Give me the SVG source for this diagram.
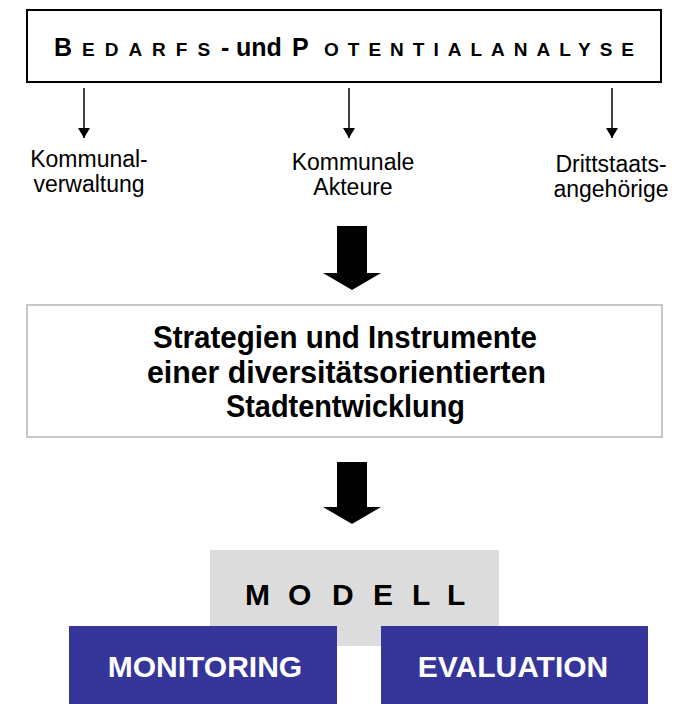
<svg xmlns="http://www.w3.org/2000/svg" width="689" height="704" viewBox="0 0 689 704">
<defs>
<style>
text{font-family:"Liberation Sans",Arial,sans-serif;fill:#000}
.lbl{font-size:23px;text-anchor:middle}
.b{font-weight:bold}
.mid{font-size:31px;font-weight:bold}
.wt{font-size:30px;font-weight:bold;fill:#fff;text-anchor:middle}
.thin{stroke:#000;stroke-width:1.5;fill:none}
</style>
<marker id="ah" viewBox="0 0 10 12" refX="10" refY="6" markerWidth="13" markerHeight="12" markerUnits="userSpaceOnUse" orient="auto">
<path d="M0,0 L10,6 L0,12 z" fill="#000"/>
</marker>
</defs>
<rect width="689" height="704" fill="#fff"/>
<g id="bedarf">
<rect x="27" y="10" width="634" height="72" fill="#fff" stroke="#000" stroke-width="2"/>
<text class="b" y="56"><tspan x="54" font-size="25">B</tspan><tspan x="82" font-size="19" letter-spacing="10">EDARFS</tspan><tspan x="221" font-size="25">-</tspan><tspan x="236" font-size="25">und</tspan><tspan x="292" font-size="25">P</tspan><tspan x="324" font-size="19" letter-spacing="9">OTENTIALANALYSE</tspan></text>
</g>
<g id="connectors">
<line class="thin" x1="84" y1="88" x2="84" y2="138" marker-end="url(#ah)"/>
<line class="thin" x1="349" y1="88" x2="349" y2="138" marker-end="url(#ah)"/>
<line class="thin" x1="612" y1="88" x2="612" y2="138" marker-end="url(#ah)"/>
<path d="M337,226 H367 V273 H381 L352,290 L323,273 H337 Z" fill="#000"/>
<path d="M337,462 H367 V507 H381 L352,524 L323,507 H337 Z" fill="#000"/>
</g>
<g id="kommunalverwaltung">
<text class="lbl"><tspan x="89" y="167">Kommunal-</tspan><tspan x="89" y="192">verwaltung</tspan></text>
</g>
<g id="akteure">
<text class="lbl"><tspan x="353" y="170">Kommunale</tspan><tspan x="353" y="195">Akteure</tspan></text>
</g>
<g id="drittstaats">
<text class="lbl"><tspan x="611" y="172">Drittstaats-</tspan><tspan x="611" y="197">angehörige</tspan></text>
</g>
<g id="strategien">
<rect x="27" y="305" width="635" height="132" fill="#fff" stroke="#c8c8c8" stroke-width="2"/>
<text class="mid" x="153" y="348" textLength="384" lengthAdjust="spacingAndGlyphs">Strategien und Instrumente</text>
<text class="mid" x="147" y="383" textLength="399" lengthAdjust="spacingAndGlyphs">einer diversitätsorientierten</text>
<text class="mid" x="226" y="417" textLength="239" lengthAdjust="spacingAndGlyphs">Stadtentwicklung</text>
</g>
<g id="modell">
<rect x="210" y="550" width="289" height="96" fill="#dcdcdc"/>
<text class="b" font-size="30" x="245 288 332 373 412 447" y="605">MODELL</text>
</g>
<g id="monitoring">
<rect x="69" y="626" width="268" height="78" fill="#35359a"/>
<text class="wt" x="205" y="677">MONITORING</text>
</g>
<g id="evaluation">
<rect x="381" y="626" width="267" height="78" fill="#35359a"/>
<text class="wt" x="513" y="677">EVALUATION</text>
</g>
</svg>
